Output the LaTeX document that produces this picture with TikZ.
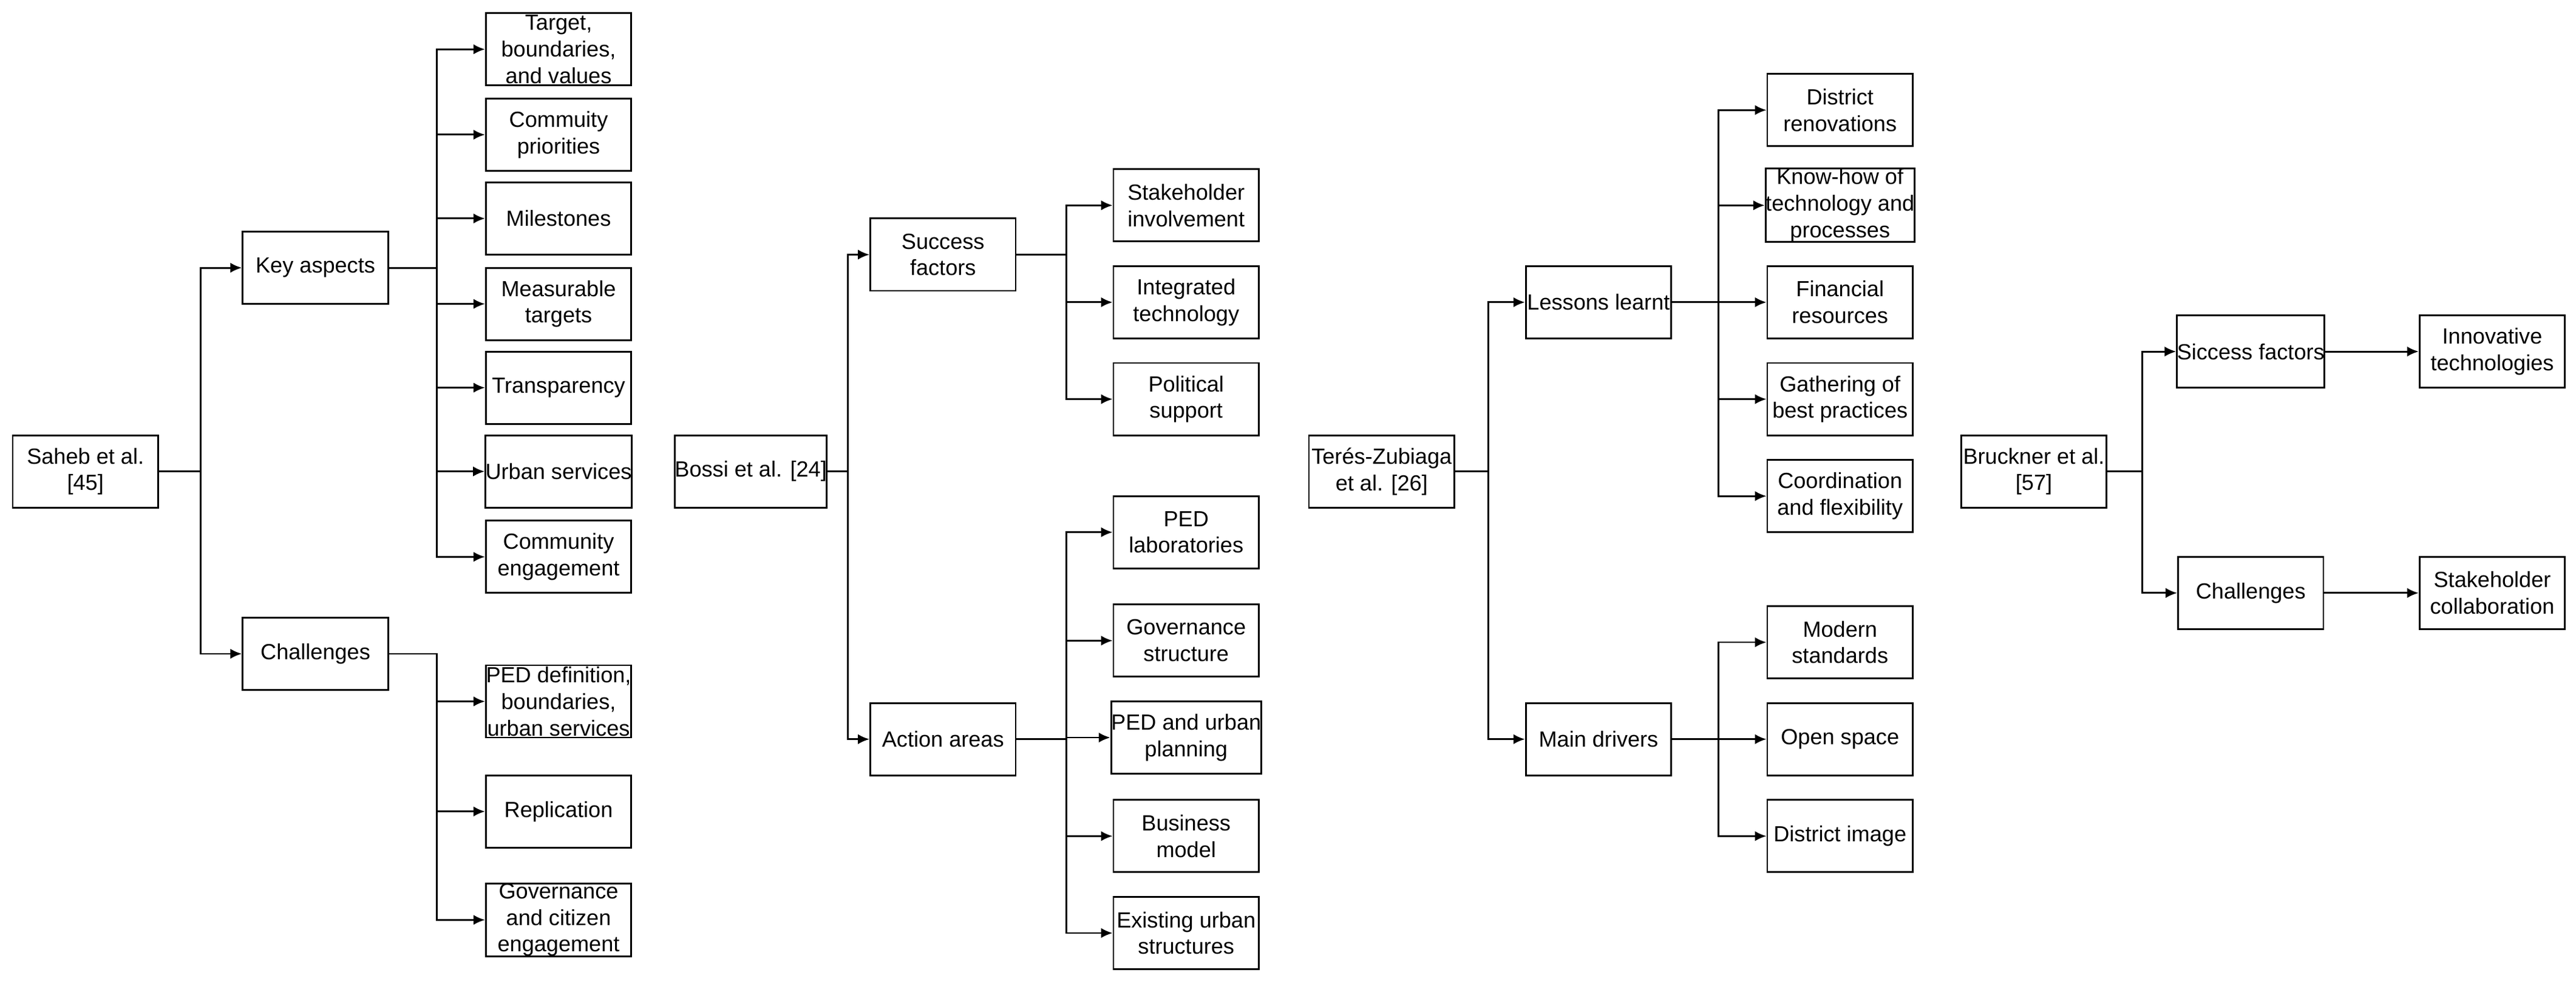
\documentclass[tikz,border=0pt]{standalone}
\usepackage{fontspec}
\setmainfont{Liberation Sans}
\usetikzlibrary{arrows.meta}
\begin{document}
\begin{tikzpicture}[x=0.02cm,y=-0.02cm,
 box/.style={draw,line width=0.6pt,minimum width=1.77cm,minimum height=0.88cm,inner sep=0pt,align=center,font=\fontsize{7.6}{9.2}\selectfont},
 arr/.style={line width=0.6pt,-{Latex[length=4pt,width=3.5pt]}}]
\useasboundingbox (0,0) rectangle (1568,599);
% Saheb
\node[box] (s) at (52,287) {Saheb et al.\\{[45]}};
\node[box] (ska) at (192,163) {Key aspects};
\node[box] (sch) at (192,398) {Challenges};
\node[box] (s1) at (340,30) {Target,\\boundaries,\\and values};
\node[box] (s2) at (340,82) {Commuity\\priorities};
\node[box] (s3) at (340,133) {Milestones};
\node[box] (s4) at (340,185) {Measurable\\targets};
\node[box] (s5) at (340,236) {Transparency};
\node[box] (s6) at (340,287) {Urban services};
\node[box] (s7) at (340,339) {Community\\engagement};
\node[box] (s8) at (340,427) {PED definition,\\boundaries,\\urban services};
\node[box] (s9) at (340,494) {Replication};
\node[box] (s10) at (340,560) {Governance\\and citizen\\engagement};
\coordinate (sb) at (122,0);
\coordinate (sk) at (266,0);
\foreach \t in {ska,sch} \draw[arr] (s.east) -- (s.east -| sb) |- (\t.west);
\foreach \t in {s1,s2,s3,s4,s5,s6,s7} \draw[arr] (ska.east) -- (ska.east -| sk) |- (\t.west);
\foreach \t in {s8,s9,s10} \draw[arr] (sch.east) -- (sch.east -| sk) |- (\t.west);
% Bossi
\node[box] (b) at (457,287) {Bossi et al. [24]};
\node[box] (bsf) at (574,155) {Success\\factors};
\node[box] (baa) at (574,450) {Action areas};
\node[box] (b1) at (722,125) {Stakeholder\\involvement};
\node[box] (b2) at (722,184) {Integrated\\technology};
\node[box] (b3) at (722,243) {Political\\support};
\node[box] (b4) at (722,324) {PED\\laboratories};
\node[box] (b5) at (722,390) {Governance\\structure};
\node[box] (b6) at (722,449) {PED and urban\\planning};
\node[box] (b7) at (722,509) {Business\\model};
\node[box] (b8) at (722,568) {Existing urban\\structures};
\coordinate (bb) at (516,0);
\coordinate (bk) at (649,0);
\foreach \t in {bsf,baa} \draw[arr] (b.east) -- (b.east -| bb) |- (\t.west);
\foreach \t in {b1,b2,b3} \draw[arr] (bsf.east) -- (bsf.east -| bk) |- (\t.west);
\foreach \t in {b4,b5,b6,b7,b8} \draw[arr] (baa.east) -- (baa.east -| bk) |- (\t.west);
% Teres
\node[box] (t) at (841,287) {Terés-Zubiaga\\et al. [26]};
\node[box] (tll) at (973,184) {Lessons learnt};
\node[box] (tmd) at (973,450) {Main drivers};
\node[box] (t1) at (1120,67) {District\\renovations};
\node[box] (t2) at (1120,125) {Know-how of\\technology and\\processes};
\node[box] (t3) at (1120,184) {Financial\\resources};
\node[box] (t4) at (1120,243) {Gathering of\\best practices};
\node[box] (t5) at (1120,302) {Coordination\\and flexibility};
\node[box] (t6) at (1120,391) {Modern\\standards};
\node[box] (t7) at (1120,450) {Open space};
\node[box] (t8) at (1120,509) {District image};
\coordinate (tb) at (906,0);
\coordinate (tk) at (1046,0);
\foreach \t in {tll,tmd} \draw[arr] (t.east) -- (t.east -| tb) |- (\t.west);
\foreach \t in {t1,t2,t3,t4,t5} \draw[arr] (tll.east) -- (tll.east -| tk) |- (\t.west);
\foreach \t in {t6,t7,t8} \draw[arr] (tmd.east) -- (tmd.east -| tk) |- (\t.west);
% Bruckner
\node[box] (r) at (1238,287) {Bruckner et al.\\{[57]}};
\node[box] (rsf) at (1370,214) {Siccess factors};
\node[box] (rch) at (1370,361) {Challenges};
\node[box] (r1) at (1517,214) {Innovative\\technologies};
\node[box] (r2) at (1517,361) {Stakeholder\\collaboration};
\coordinate (rb) at (1304,0);
\foreach \t in {rsf,rch} \draw[arr] (r.east) -- (r.east -| rb) |- (\t.west);
\draw[arr] (rsf) -- (r1);
\draw[arr] (rch) -- (r2);
\end{tikzpicture}
\end{document}
